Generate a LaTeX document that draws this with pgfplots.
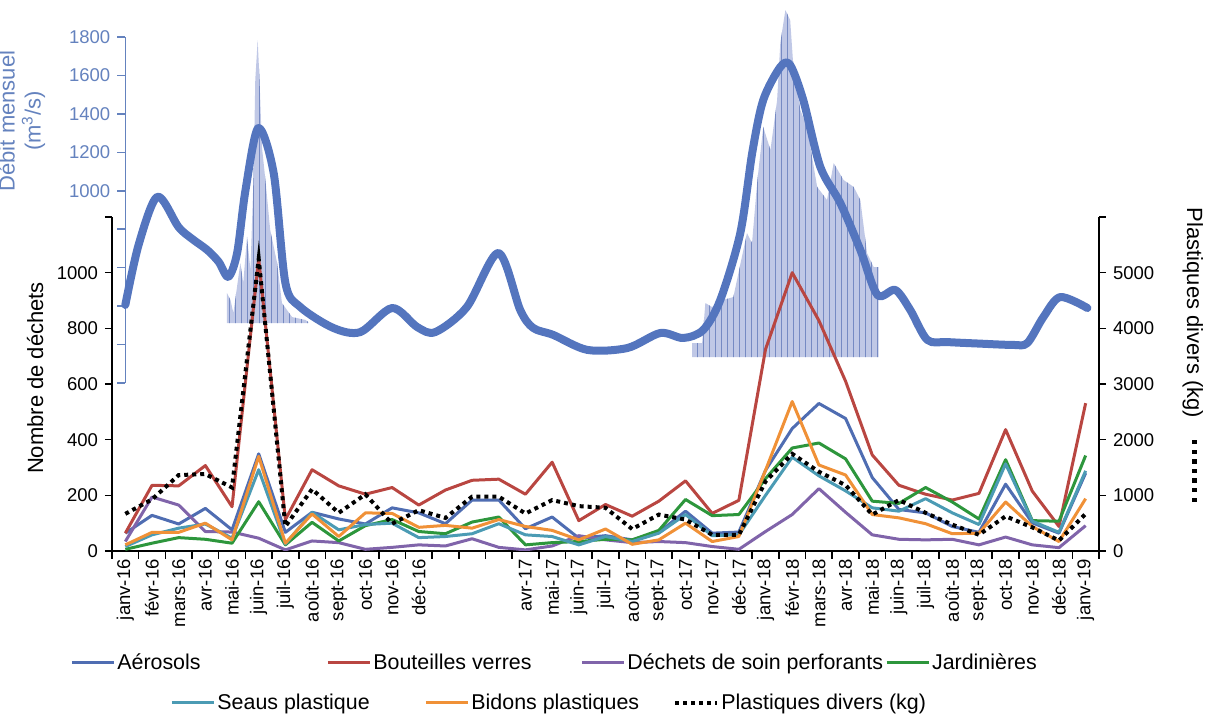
\documentclass[border=0pt]{standalone}
\usepackage{fontspec}
\setmainfont{Liberation Sans}
\usepackage{pgfplots}
\pgfplotsset{compat=1.18}
\usetikzlibrary{patterns}

\definecolor{caer}{RGB}{79,109,178}
\definecolor{cbou}{RGB}{185,70,65}
\definecolor{cdec}{RGB}{128,100,170}
\definecolor{cjar}{RGB}{45,150,60}
\definecolor{csea}{RGB}{75,155,180}
\definecolor{cbid}{RGB}{240,145,55}
\definecolor{cdeb}{RGB}{84,117,190}
\definecolor{cdebax}{RGB}{100,130,190}
\definecolor{cbar}{RGB}{192,200,230}
\definecolor{cbarln}{RGB}{118,138,195}

\newcommand{\tickfont}{\fontsize{9.25}{11}\selectfont}
\newcommand{\labfont}{\fontsize{11}{13}\selectfont}
\newcommand{\legfont}{\fontsize{10.7}{12}\selectfont}

\begin{document}
\begin{tikzpicture}
% ---------------- débit axis ----------------
\begin{axis}[
  at={(6.67pt,84pt)}, anchor=south west,
  scale only axis, width=486.9pt, height=173pt,
  xmin=0, xmax=36.5, ymin=0, ymax=1800,
  axis x line=none, axis y line*=left,
  clip=false,
  axis line style={cdebax, line width=0.8pt},
  ytick={0,200,...,1800},
  yticklabels={,,,,,1000,1200,1400,1600,1800},
  ytick style={cdebax, line width=0.8pt},
  tick align=outside, major tick length=4pt,
  yticklabel style={font=\tickfont, text=cdebax},
  every axis y label/.style={at={(axis description cs:-0.075,0.757)}, anchor=south, rotate=90, align=center, font=\labfont, text=cdebax},
  ylabel={Débit mensuel\\(m\textsuperscript{3}/s)},
]
\addplot[draw=none, fill=cbar, postaction={pattern=vertical lines, pattern color=cbarln}] coordinates {
(3.81,312)(3.81,468)(3.94,432)(4.05,364)(4.31,624)(4.42,520)(4.56,760)(4.69,588)(4.81,1092)(4.87,1576)(4.96,1784)(5.03,1576)(5.12,1228)(5.25,1056)(5.43,796)(5.69,624)(5.87,416)(6.25,343)(6.75,328)(6.86,317)(6.86,312)
} -- cycle;
\addplot[draw=none, fill=cbar, postaction={pattern=vertical lines, pattern color=cbarln}] coordinates {
(21.24,135)(21.24,208)(21.62,208)(21.74,416)(21.99,395)(22.41,432)(22.79,447)(23.30,780)(23.49,728)(23.68,1040)(23.91,1332)(24.18,1212)(24.43,1472)(24.55,1769)(24.74,1940)(24.92,1888)(25.04,1644)(25.30,1420)(25.55,1332)(25.93,1020)(26.30,952)(26.55,1144)(26.92,1056)(27.30,1020)(27.55,952)(27.80,676)(28.05,603)(28.23,603)(28.23,135)
} -- cycle;
\addplot[cdeb, line width=4pt, smooth, line cap=round, line join=round] coordinates {
(0,406)(0.5,720)(1.2,969)(1.99,812)(2.5,750)(3.07,692)(3.5,630)(3.86,552)(4.19,676)(4.5,1000)(4.98,1326)(5.56,1092)(6.0,520)(6.56,395)(7.8,286)(8.81,265)(10.0,390)(10.94,291)(11.62,265)(12.8,395)(13.98,676)(14.8,380)(15.29,286)(16.04,250)(17.32,172)(18.82,182)(20.05,260)(20.91,234)(21.66,276)(22.30,432)(23.05,780)(23.5,1200)(23.91,1472)(24.55,1644)(24.92,1654)(25.41,1472)(26.05,1124)(26.80,936)(27.55,692)(28.19,458)(28.86,484)(29.42,380)(30.06,224)(30.81,213)(32.0,205)(33.28,198)(33.81,208)(34.41,343)(35.04,447)(36.06,390)
};
\end{axis}

% ---------------- main (left) axis ----------------
\begin{axis}[
  at={(0pt,0pt)}, anchor=south west,
  scale only axis, width=493.5pt, height=167pt,
  xmin=-0.5, xmax=36.5, ymin=0, ymax=1200,
  axis x line*=bottom, axis y line*=left,
  axis line style={black, line width=0.8pt},
  xtick={0,...,36},
  xticklabels={janv-16,févr-16,mars-16,avr-16,mai-16,juin-16,juil-16,août-16,sept-16,oct-16,nov-16,déc-16,,,,avr-17,mai-17,juin-17,juil-17,août-17,sept-17,oct-17,nov-17,déc-17,janv-18,févr-18,mars-18,avr-18,mai-18,juin-18,juil-18,août-18,sept-18,oct-18,nov-18,déc-18,janv-19},
  minor xtick={-0.5,0.5,...,36.5},
  major x tick style={draw=none},
  minor x tick style={black, line width=0.8pt},
  ytick style={black, line width=0.8pt},
  minor tick length=4pt, major tick length=3.5pt,
  tick align=outside,
  xticklabel style={rotate=90, anchor=east, font=\tickfont, inner sep=0.5pt},
  ytick={0,200,...,1200}, yticklabels={0,200,400,600,800,1000,},
  yticklabel style={font=\tickfont},
  every axis y label/.style={at={(axis description cs:-0.078,0.518)}, anchor=center, rotate=90, font=\labfont},
  ylabel={Nombre de déchets},
  legend columns=4,
  legend style={at={(axis description cs:-0.0426,-0.3353)}, anchor=west, draw=none, fill=none, inner sep=0pt, font=\legfont, nodes={inner sep=1pt}, /tikz/every even column/.append style={column sep=0pt}},
  legend image code/.code={\draw[#1] (0pt,0pt) -- (21pt,0pt);},
  every axis plot/.append style={line width=1.5pt, line join=round},
]
\addplot[caer] coordinates {(0,64)(1,128)(2,97)(3,153)(4,76)(5,349)(6,67)(7,139)(8,115)(9,97)(10,155)(11,137)(12,98)(13,183)(14,183)(15,80)(16,122)(17,46)(18,55)(19,40)(20,67)(21,143)(22,64)(23,68)(24,290)(25,440)(26,530)(27,476)(28,264)(29,149)(30,137)(31,88)(32,67)(33,240)(34,101)(35,64)(36,280)};
\addlegendentry{\makebox[103.5pt][l]{Aérosols}}
\addplot[cbou] coordinates {(0,64)(1,236)(2,234)(3,307)(4,159)(5,1050)(6,113)(7,292)(8,234)(9,204)(10,228)(11,165)(12,219)(13,254)(14,258)(15,204)(16,319)(17,109)(18,167)(19,125)(20,179)(21,252)(22,135)(23,182)(24,725)(25,1000)(26,828)(27,610)(28,345)(29,236)(30,204)(31,183)(32,207)(33,436)(34,215)(35,88)(36,531)};
\addlegendentry{\makebox[102.5pt][l]{Bouteilles verres}}
\addplot[cdec] coordinates {(0,34)(1,194)(2,165)(3,70)(4,68)(5,46)(6,4)(7,36)(8,30)(9,6)(10,13)(11,22)(12,18)(13,44)(14,13)(15,4)(16,18)(17,55)(18,40)(19,30)(20,34)(21,30)(22,16)(23,6)(24,70)(25,131)(26,224)(27,139)(28,58)(29,42)(30,40)(31,42)(32,22)(33,50)(34,22)(35,12)(36,91)};
\addlegendentry{Déchets de soin perforants}
\addplot[cjar] coordinates {(0,6)(1,28)(2,48)(3,42)(4,28)(5,177)(6,22)(7,103)(8,36)(9,91)(10,113)(11,70)(12,62)(13,104)(14,122)(15,22)(16,30)(17,34)(18,42)(19,40)(20,74)(21,185)(22,127)(23,131)(24,260)(25,370)(26,388)(27,331)(28,179)(29,171)(30,228)(31,176)(32,115)(33,328)(34,109)(35,107)(36,343)};
\addlegendentry{Jardinières}
\addplot[csea, forget plot] coordinates {(0,16)(1,58)(2,82)(3,97)(4,46)(5,292)(6,25)(7,139)(8,76)(9,95)(10,100)(11,48)(12,52)(13,62)(14,98)(15,58)(16,52)(17,22)(18,52)(19,34)(20,64)(21,131)(22,55)(23,58)(24,200)(25,337)(26,270)(27,216)(28,155)(29,143)(30,188)(31,137)(32,95)(33,313)(34,107)(35,67)(36,288)};
\addplot[cbid, forget plot] coordinates {(0,22)(1,67)(2,67)(3,100)(4,40)(5,340)(6,28)(7,133)(8,52)(9,137)(10,135)(11,85)(12,92)(13,82)(14,113)(15,88)(16,74)(17,40)(18,79)(19,24)(20,40)(21,100)(22,34)(23,52)(24,290)(25,537)(26,309)(27,273)(28,131)(29,119)(30,98)(31,62)(32,64)(33,176)(34,88)(35,34)(36,188)};
\end{axis}

% ---------------- right axis ----------------
\begin{axis}[
  at={(0pt,0pt)}, anchor=south west,
  scale only axis, width=493.5pt, height=167pt,
  xmin=-0.5, xmax=36.5, ymin=0, ymax=6000,
  axis x line=none, axis y line*=right,
  axis line style={black, line width=0.8pt},
  ytick={0,1000,...,6000}, yticklabels={0,1000,2000,3000,4000,5000,},
  ytick style={black, line width=0.8pt},
  major tick length=3.5pt, tick align=outside,
  yticklabel style={font=\tickfont},
  every axis y label/.style={at={(axis description cs:1.095,0.587)}, anchor=center, rotate=-90, font=\labfont},
  ylabel={Plastiques divers (kg)\quad\rule[0.45ex]{2.2pt}{2.2pt}\hspace{2.6pt}\rule[0.45ex]{2.2pt}{2.2pt}\hspace{2.6pt}\rule[0.45ex]{2.2pt}{2.2pt}\hspace{2.6pt}\rule[0.45ex]{2.2pt}{2.2pt}\hspace{2.6pt}\rule[0.45ex]{2.2pt}{2.2pt}\hspace{2.6pt}\rule[0.45ex]{2.2pt}{2.2pt}\hspace{2.6pt}\rule[0.45ex]{2.2pt}{2.2pt}},
  legend columns=3,
  legend style={at={(axis description cs:0.0588,-0.455)}, anchor=west, draw=none, fill=none, inner sep=0pt, font=\legfont, nodes={inner sep=1pt}, /tikz/every even column/.append style={column sep=0pt}},
  legend image code/.code={\draw[#1] (0pt,0pt) -- (21pt,0pt);},
]
\addlegendimage{csea, line width=1.5pt}
\addlegendentry{\makebox[102.5pt][l]{Seaus plastique}}
\addlegendimage{cbid, line width=1.5pt}
\addlegendentry{\makebox[100pt][l]{Bidons plastiques}}
\addplot[black, line width=2pt, dash pattern=on 2pt off 2pt] coordinates {(0,667)(1,927)(2,1364)(3,1382)(4,1140)(5,5250)(6,442)(7,1110)(8,685)(9,1018)(10,490)(11,733)(12,594)(13,976)(14,976)(15,673)(16,915)(17,806)(18,776)(19,394)(20,654)(21,564)(22,291)(23,291)(24,1250)(25,1745)(26,1424)(27,1182)(28,654)(29,915)(30,685)(31,473)(32,291)(33,624)(34,424)(35,188)(36,667)};
\addlegendentry{Plastiques divers (kg)}
\end{axis}
\pgfresetboundingbox
\path (-56pt,-82pt) rectangle (547.5pt,275.5pt);
\end{tikzpicture}
\end{document}
